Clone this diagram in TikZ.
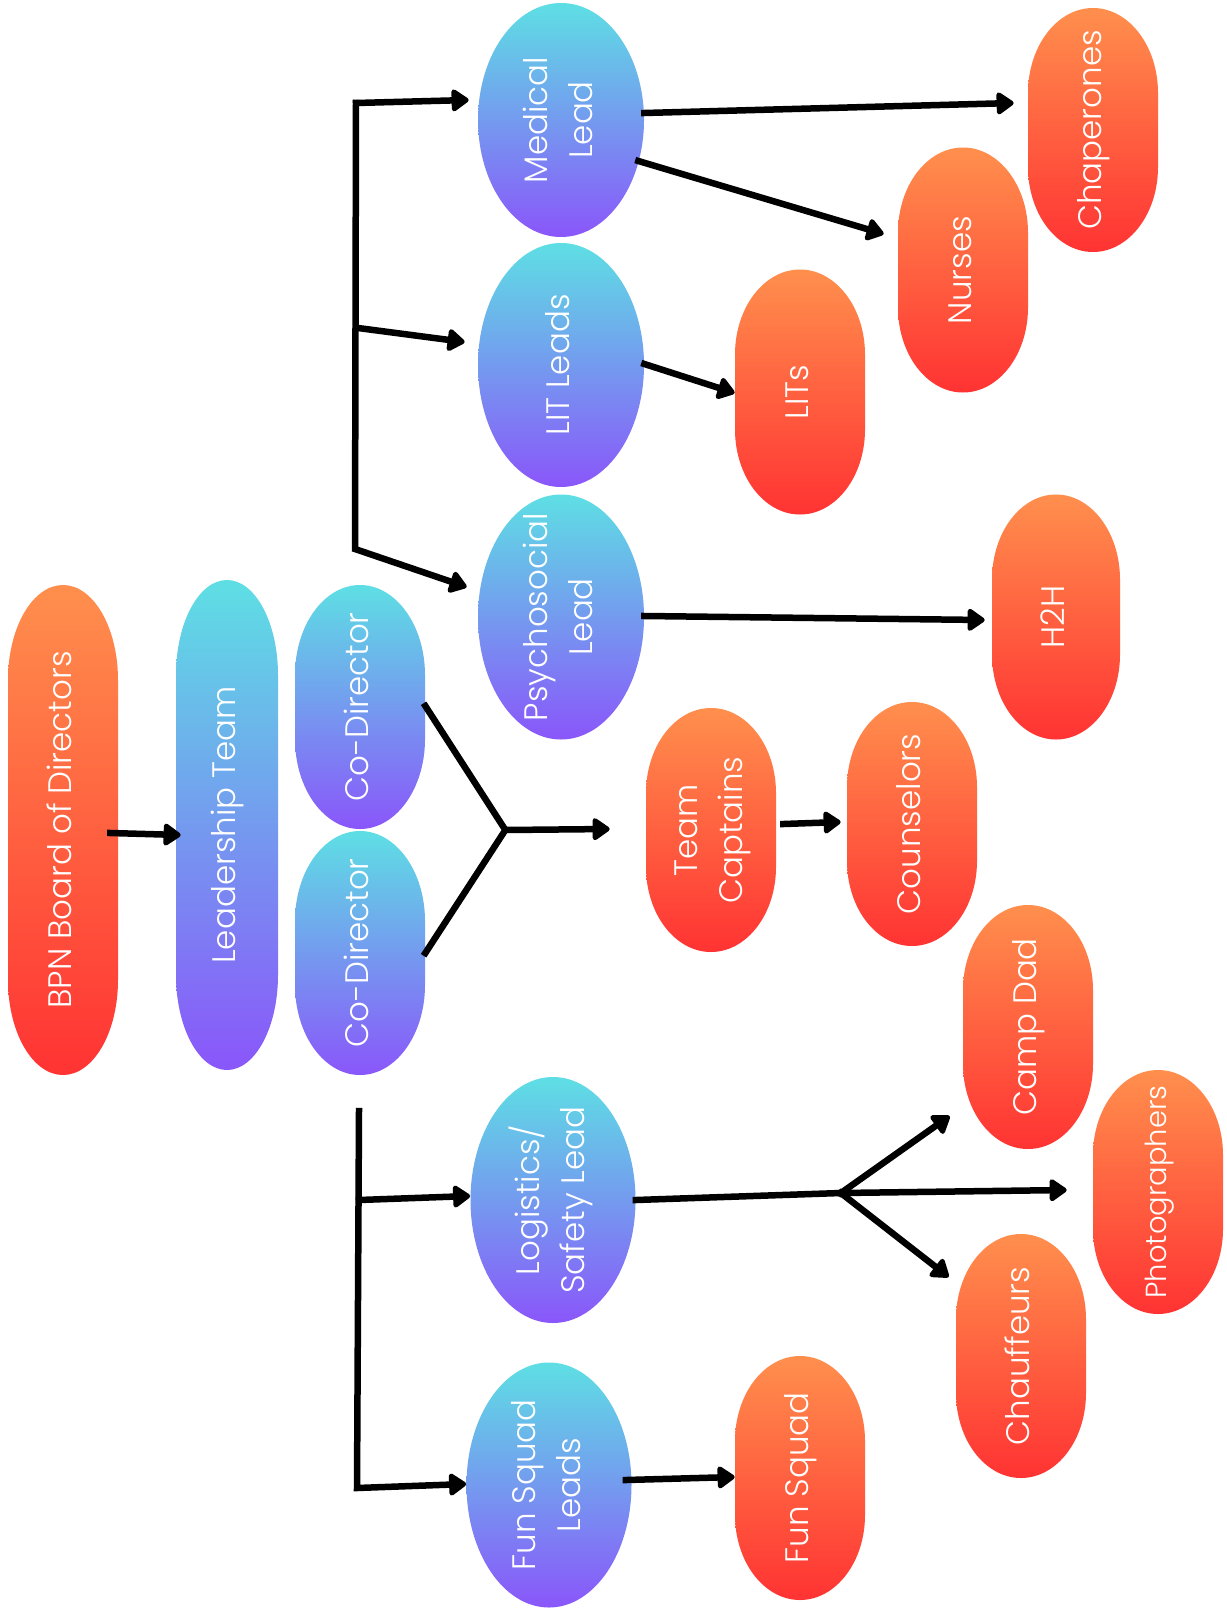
\documentclass[tikz,border=0pt]{standalone}
\usepackage{fontspec}
\setmainfont{Poppins}[UprightFont={* Light}]
\usepackage{graphicx}
\usetikzlibrary{arrows.meta,calc}
\definecolor{orgtop}{HTML}{FF8F4D}
\definecolor{orgbot}{HTML}{FF3333}
\definecolor{blutop}{HTML}{5EDFE4}
\definecolor{blubot}{HTML}{8A56FA}
\tikzset{
  org/.style={top color=orgtop,bottom color=orgbot},
  blu/.style={top color=blutop,bottom color=blubot},
  txt/.style={text=white,inner sep=0pt,font=\fontsize{18.5}{25.5}\selectfont},
  ln/.style={line width=0.13cm,black,line join=miter,line cap=rect},
  arr/.style={ln,-{Triangle[length=0.38cm,width=0.5cm,round]}},
}
\newcommand\pillnode[8]{%
  \shade[#7] ({#2-#4/2},{-#3+#5/2-#6}) arc[start angle=180,end angle=0,x radius={#4/2},y radius=#6]
    -- ({#2+#4/2},{-#3-#5/2+#6}) arc[start angle=0,end angle=-180,x radius={#4/2},y radius=#6] -- cycle;
  \node[txt,minimum width={#4*0.02cm},minimum height={#5*0.02cm}] (#1) at (#2,-#3)
    {\rotatebox{90}{\begin{tabular}{@{}c@{}}#8\end{tabular}}};}
\newcommand\ellnode[7]{%
  \shade[#6] (#2,-#3) ellipse[x radius={#4/2},y radius={#5/2}];
  \node[txt,minimum width={#4*0.02cm},minimum height={#5*0.02cm}] (#1) at (#2,-#3)
    {\rotatebox{90}{\begin{tabular}{@{}c@{}}#7\end{tabular}}};}
\begin{document}
\begin{tikzpicture}[x=0.02cm,y=0.02cm]
\useasboundingbox (0,0) rectangle (1227,-1609);
\fill[white] (0,0) rectangle (1227,-1609);

\pillnode{bpn}{63}{830}{110}{490}{95}{org}{BPN Board of Directors}
\pillnode{lead}{227}{825}{102}{490}{95}{blu}{Leadership Team}
\pillnode{cod1}{360}{707}{130}{244}{90}{blu}{Co-Director}
\pillnode{cod2}{360}{953}{130}{244}{90}{blu}{Co-Director}
\ellnode{med}{561}{120}{166}{234}{blu}{Medical\\Lead}
\ellnode{lit}{561}{365}{166}{244}{blu}{LIT Leads}
\ellnode{psy}{561}{617}{166}{245}{blu}{Psychosocial\\Lead}
\ellnode{log}{553}{1200}{165}{246}{blu}{Logistics/\\Safety Lead}
\ellnode{fsl}{549}{1485}{165}{245}{blu}{Fun Squad\\Leads}
\pillnode{tc}{711}{830}{130}{244}{85}{org}{Team\\Captains}
\pillnode{cou}{912}{824}{130}{244}{85}{org}{Counselors}
\pillnode{lits}{800}{392}{130}{245}{85}{org}{LITs}
\pillnode{nur}{963}{270}{130}{245}{85}{org}{Nurses}
\pillnode{chap}{1093}{130}{130}{244}{85}{org}{Chaperones}
\pillnode{h2h}{1056}{617}{128}{245}{85}{org}{H2H}
\pillnode{camp}{1028}{1027}{130}{244}{85}{org}{Camp Dad}
\pillnode{photo}{1158}{1192}{130}{244}{85}{org}{\fontsize{16.5}{22}\selectfont Photographers}
\pillnode{chauf}{1021}{1356}{130}{244}{85}{org}{Chauffeurs}
\pillnode{fs}{800}{1478}{130}{244}{85}{org}{Fun Squad}

% connectors
\draw[arr] ($(bpn.east)+(-8,-3)$) -- ($(lead.west)+(5,-10)$);
\coordinate (j1) at ($(cod1.east)!0.5!(cod2.east)+(80,0)$);
\draw[ln] ($(cod1.east)+(0,1)$) -- (j1) -- (cod2.east);
\draw[arr] (j1) -- ($(tc.west)+(-36,1)$);

\coordinate (b1t) at (356,-103);
\coordinate (b1m) at (358,-328);
\coordinate (b1b) at (355,-549);
\draw[arr] (b1t) -- (b1b) -- ($(psy.west)+(-11,30)$);
\draw[arr] (b1t) -- ($(med.west)+(-9,20)$);
\draw[arr] (b1m) -- ($(lit.west)+(-13,23)$);

\draw[arr] ($(med.east)+(0,7)$) -- ($(chap.west)+(-14,27)$);
\draw[arr] ($(med.east)+(-6,-41)$) -- ($(nur.west)+(-14,36)$);
\draw[arr] ($(lit.east)+(0,1)$) -- ($(lits.west)+(0,-1)$);
\draw[arr] ($(psy.east)+(0,1)$) -- ($(h2h.west)+(-7,-3)$);
\draw[arr] ($(tc.east)+(7,6)$) -- ($(cou.west)+(-6,2)$);

\coordinate (b2t) at (359,-1111);
\coordinate (b2m) at (359,-1200);
\coordinate (b2b) at (357,-1488);
\draw[arr] (b2t) -- (b2b) -- ($(fsl.west)+(0,1)$);
\draw[arr] (b2m) -- ($(log.west)+(0,4)$);

\coordinate (j2) at ($(log.east)+(205,7)$);
\draw[ln] (log.east) -- (j2);
\draw[arr] (j2) -- ($(camp.west)+(-13,-89)$);
\draw[arr] (j2) -- ($(photo.west)+(-26,2)$);
\draw[arr] (j2) -- ($(chauf.west)+(-7,79)$);

\draw[arr] ($(fsl.east)+(-6,5)$) -- ($(fs.west)+(0,1)$);
\end{tikzpicture}
\end{document}
